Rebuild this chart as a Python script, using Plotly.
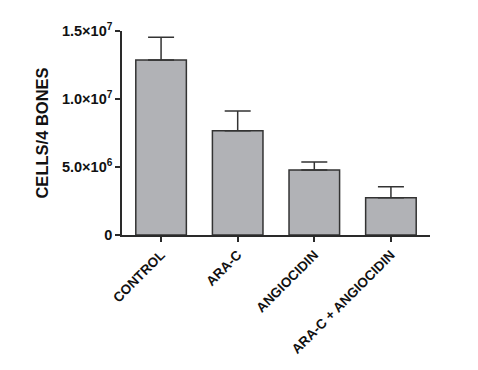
import plotly.graph_objects as go

categories = ["CONTROL", "ARA-C", "ANGIOCIDIN", "ARA-C + ANGIOCIDIN"]
means = [1.287e7, 7.67e6, 4.78e6, 2.74e6]
errors_upper = [1.67e6, 1.45e6, 0.59e6, 0.81e6]
tick_vals = [0, 5e6, 1e7, 1.5e7]
tick_text = ["0", "5.0×10<sup>6</sup>", "1.0×10<sup>7</sup>", "1.5×10<sup>7</sup>"]

FAM = "Liberation Sans, Arial, sans-serif"

fig = go.Figure(go.Bar(
    x=categories, y=means,
    width=0.66,
    marker=dict(color="#b1b2b6", line=dict(color="#333333", width=1.5)),
    error_y=dict(type="data", array=errors_upper, arrayminus=[0]*4, symmetric=False,
                 color="#333333", thickness=1.5, width=13),
))

# the page body has an 8px default margin, so the figure is sized to fit inside it
fig.update_layout(
    width=462, height=354,
    margin=dict(l=114, r=40, t=23, b=127),
    plot_bgcolor="white", paper_bgcolor="white",
    showlegend=False,
    font=dict(family=FAM, color="#111111"),
)
fig.update_xaxes(
    range=[-0.51, 3.51], showline=True, linecolor="#2a2a2a", linewidth=1.5,
    ticks="outside", ticklen=5, tickwidth=1.5, tickcolor="#2a2a2a",
    tickangle=-45, tickfont=dict(size=13.5, family=FAM, color="#111", weight="bold"),
    showgrid=False, zeroline=False, automargin=False,
)
fig.update_yaxes(
    range=[0, 1.5e7], showline=True, linecolor="#2a2a2a", linewidth=1.5,
    ticks="outside", ticklen=5, tickwidth=1.5, tickcolor="#2a2a2a",
    tickvals=tick_vals, ticktext=tick_text,
    tickfont=dict(size=14.5, family=FAM, color="#111", weight="bold"),
    title=dict(text="CELLS/4 BONES", font=dict(size=16.5, family=FAM, color="#111", weight="bold"), standoff=9),
    showgrid=False, zeroline=False, automargin=False,
)
fig.write_html("out.html")
